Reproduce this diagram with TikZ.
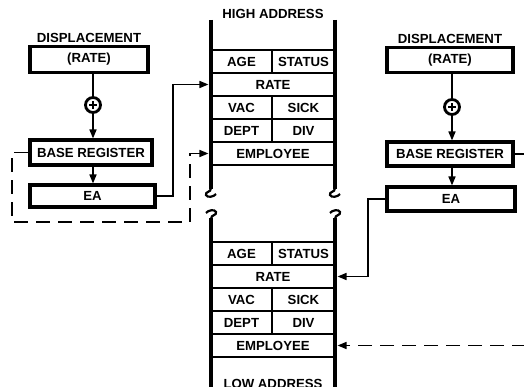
\documentclass[tikz,border=0pt]{standalone}
\usepackage{fontspec}
\setmainfont{Liberation Sans}
\usetikzlibrary{arrows.meta}
\newcommand{\lbfont}{\fontsize{13.2}{15}\selectfont\bfseries}
\begin{document}
\begin{tikzpicture}[x=1pt,y=-1pt,
  txt/.style={font=\lbfont, inner sep=0pt},
  reg/.style={draw, line width=3.1pt, inner sep=0pt, font=\lbfont},
  cell/.style={draw, line width=1.9pt, inner sep=0pt, minimum height=23pt, font=\lbfont},
  half/.style={cell, minimum width=61pt},
  halfr/.style={cell, minimum width=63pt},
  full/.style={cell, minimum width=124pt},
  plusnode/.style={circle, draw, line width=2.8pt, minimum size=15pt, inner sep=0pt},
  conn/.style={line width=1.6pt},
  arr/.style={conn, -{Triangle[length=9pt,width=7pt]}},
  dsh/.style={conn, dash pattern=on 14pt off 8pt},
  mem/.style={line width=3.2pt},
  curl/.style={line width=2.2pt}
]
\useasboundingbox (0,0) rectangle (524,387);
\clip (0,0) rectangle (524,387);

% ---------- left side ----------
\node[txt] (dlabL) at (89,38) {DISPLACEMENT};
\node[reg, minimum width=118pt, minimum height=26pt] (dispL) at (89,59.5) {(RATE)};
\node[plusnode] (plusL) at (93,105) {};
\node[reg, minimum width=122pt, minimum height=25pt] (baseL) at (91,152.5) {BASE REGISTER};
\node[reg, minimum width=125pt, minimum height=22pt] (eaL) at (92.5,196) {EA};

% ---------- right side ----------
\node[txt] (dlabR) at (450,39) {DISPLACEMENT};
\node[reg, minimum width=126pt, minimum height=25pt] (dispR) at (450,60) {(RATE)};
\node[plusnode] (plusR) at (452,107) {};
\node[reg, minimum width=126pt, minimum height=24pt] (baseR) at (450,154) {BASE REGISTER};
\node[reg, minimum width=128pt, minimum height=24pt] (eaR) at (451,199) {EA};

% plus signs
\foreach \p in {plusL,plusR}{
  \draw[line width=1.8pt] ([xshift=-3.6pt]\p.center) -- ([xshift=3.6pt]\p.center);
  \draw[line width=1.8pt] ([yshift=-3.6pt]\p.center) -- ([yshift=3.6pt]\p.center);
}

% ---------- memory ----------
\node[txt] (high) at (273,14) {HIGH ADDRESS};
\node[txt, anchor=base] (low) at (273,388) {LOW ADDRESS};

\node[half]  (ageU)  at (241.5,61.5)  {AGE};
\node[halfr] (statU) at (303.5,61.5)  {STATUS};
\node[full]  (rateU) at (273,84.5)    {RATE};
\node[half]  (vacU)  at (241.5,107.5) {VAC};
\node[halfr] (sickU) at (303.5,107.5) {SICK};
\node[half]  (deptU) at (241.5,130.5) {DEPT};
\node[halfr] (divU)  at (303.5,130.5) {DIV};
\node[full]  (empU)  at (273,153.5)   {EMPLOYEE};

\node[half]  (ageL)  at (241.5,253.5) {AGE};
\node[halfr] (statL) at (303.5,253.5) {STATUS};
\node[full]  (rateL) at (273,276.5)   {RATE};
\node[half]  (vacL)  at (241.5,299.5) {VAC};
\node[halfr] (sickL) at (303.5,299.5) {SICK};
\node[half]  (deptL) at (241.5,322.5) {DEPT};
\node[halfr] (divL)  at (303.5,322.5) {DIV};
\node[full]  (empL)  at (273,345.5)   {EMPLOYEE};

\foreach \X in {211,335}{
  \draw[mem] (\X,20) -- (\X,189);
  \draw[curl] (\X,188) .. controls (\X,193) and (\X-6,191) .. (\X-5,195)
        .. controls (\X-4,198) and (\X+3,197) .. (\X+5,194);
  \draw[curl] (\X-5,213) .. controls (\X-3,210) and (\X+4,209) .. (\X+5,212)
        .. controls (\X+6,216) and (\X,214) .. (\X,219);
  \draw[mem] (\X,218) -- (\X,392);
}

% ---------- connectors ----------
\coordinate (jL) at (173,0);
\coordinate (jR) at (368,0);
\coordinate (d1) at (12,222);
\coordinate (d2) at (190,222);
\coordinate (edgeR) at (526,0);

\draw[conn] (dispL.south -| plusL) -- (plusL.north);
\draw[arr] (plusL.south) -- (baseL.north -| plusL);
\draw[arr] (baseL.south -| plusL) -- (eaL.north -| plusL);
\draw[arr] (eaL.east) -| (jL |- rateU.west) -- ([xshift=-1.6pt]rateU.west);
\draw[dsh] (baseL.west) -| (d1) -- (d2) -- (d2 |- empU.west);
\draw[arr] (d2 |- empU.west) -- ([xshift=-1.6pt]empU.west);

\draw[conn] (dispR.south -| plusR) -- (plusR.north);
\draw[arr] (plusR.south) -- (baseR.north -| plusR);
\draw[arr] (baseR.south -| plusR) -- (eaR.north -| plusR);
\draw[conn] (baseR.east) -- (edgeR |- baseR.east);
\draw[arr] (eaR.west) -| (jR |- rateL.east) -- ([xshift=1.6pt]rateL.east);
\draw[dsh, -{Triangle[length=9pt,width=7pt]}] (edgeR |- empL.east) -- ([xshift=1.6pt]empL.east);
\end{tikzpicture}
\end{document}
